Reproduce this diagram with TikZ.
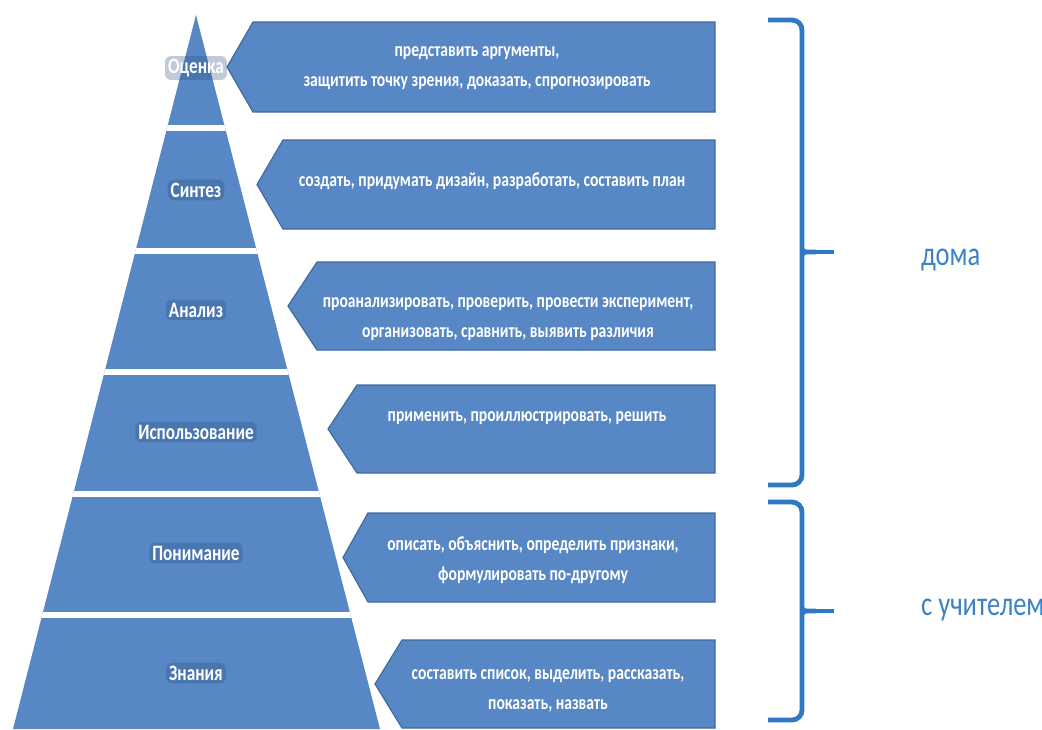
\documentclass[tikz,border=0pt]{standalone}
\usepackage{fontspec}
\setmainfont{Carlito}[FakeStretch=0.78]
\usepackage{xcolor}
\usepackage{tikz}
\usetikzlibrary{scopes}
\definecolor{pyr}{HTML}{5787C4}
\definecolor{pyrline}{HTML}{3F6AA3}
\definecolor{glow}{HTML}{2F4F7F}
\definecolor{brc}{HTML}{2F78C2}
\definecolor{brtext}{HTML}{3C82C6}

\begin{document}
\begin{tikzpicture}[x=0.5pt,y=-0.5pt,
      lvl/.style={text=white,font=\bfseries\fontsize{11}{13}\selectfont,
          fill=glow,fill opacity=0.3,text opacity=1,rounded corners=3pt,inner sep=1.5pt},
      verb/.style={fill=pyr,draw=pyrline,line width=0.6pt},
      vtext/.style={text=white,align=center,font=\bfseries\fontsize{10}{15}\selectfont},
      brace/.style={draw=brc,line width=2.4pt,rounded corners=5pt},
      where/.style={text=brtext,anchor=west,font=\fontsize{17}{20}\selectfont}
]
      \useasboundingbox (0,0) rectangle (1042,729);
      % pyramid
      \coordinate (apex) at (196,15);
      \coordinate (bl) at (13,729);
      \coordinate (br) at (380,729);
      \fill[pyr] (apex) -- (br) -- (bl) -- cycle;
      {[white,line width=3pt]
          \clip (apex) -- (br) -- (bl) -- cycle;
          \foreach \y in {128,250.5,371.5,493.5,615}
              \draw (0,\y) -- (420,\y);
      }
      \node[lvl] (l1) at (196,68) {Оценка};
      \node[lvl] (l2) at (196,190) {Синтез};
      \node[lvl] (l3) at (196,310) {Анализ};
      \node[lvl] (l4) at (196,432) {Использование};
      \node[lvl] (l5) at (196,553) {Понимание};
      \node[lvl] (l6) at (196,673) {Знания};
      % verb boxes
      \foreach \t/\b/\p/\k in {22/112/227/253,140/229/257/283,262/350/288/317,
                              385/473/328/357,513/602/343/368,640/728/375/402}
          \draw[verb] (\p,{(\t+\b)/2}) -- (\k,\t) -- (715,\t) -- (715,\b) -- (\k,\b) -- cycle;
      \node[vtext] (v1) at (477,68) {представить аргументы,\\защитить точку зрения, доказать, спрогнозировать};
      \node[vtext] (v2) at (492,181) {создать, придумать дизайн, разработать, составить план};
      \node[vtext] (v3) at (508,319) {проанализировать, проверить, провести эксперимент,\\организовать, сравнить, выявить различия};
      \node[vtext] (v4) at (527,418) {применить, проиллюстрировать, решить};
      \node[vtext] (v5) at (533,560) {описать, объяснить, определить признаки,\\формулировать по-другому};
      \node[vtext] (v6) at (548,691) {составить список, выделить, рассказать,\\показать, назвать};
      % braces
      \draw[brace] (768,20) -- (802,20) -- (802,485) -- (768,485);
      \draw[brace] (768,502) -- (802,502) -- (802,720) -- (768,720);
      \foreach \m in {252,611} {
          \draw[brc,line width=2.4pt] (802,\m) -- (834,\m);
          \fill[brc] (802,\m-8) .. controls (804,\m-2) .. (816,\m-2.5)
              -- (816,\m+2.5) .. controls (804,\m+2) .. (802,\m+8) -- cycle;
      }
      \node[where] (home) at (914,260) {дома};
      \node[where] (teach) at (914,610) {с учителем};
\end{tikzpicture}
\end{document}
